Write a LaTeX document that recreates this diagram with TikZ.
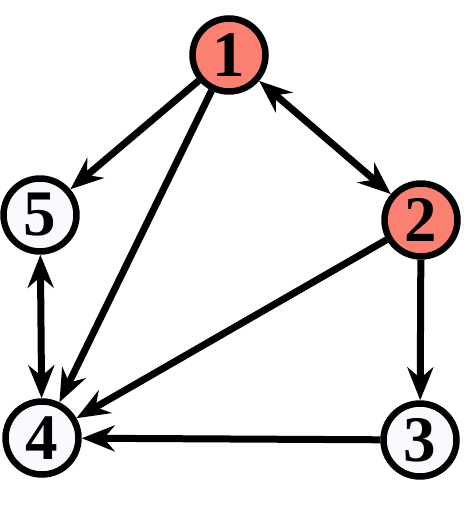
\documentclass[tikz,border=0pt]{standalone}
\usepackage{fontspec}
\setmainfont{Liberation Serif}
\usetikzlibrary{arrows.meta}
\definecolor{salmon}{RGB}{250,128,114}
\definecolor{ghost}{RGB}{250,250,254}

\begin{document}
\begin{tikzpicture}[x=0.02cm,y=-0.02cm,>={Stealth[length=0.66cm,width=0.52cm,inset=0.22cm]},
    vtx/.style={circle,draw,line width=0.13cm,fill=ghost,minimum size=1.46cm,inner sep=0pt,
      font=\fontsize{37}{37}\selectfont\bfseries},
    hot/.style={vtx,fill=salmon},
    line width=0.14cm]
  \useasboundingbox (0,0) rectangle (463,506);
  \node[hot] (n1) at (229,55) {1};
  \node[hot] (n2) at (421,220) {2};
  \node[vtx] (n5) at (40,215) {5};
  \node[vtx] (n4) at (42,438) {4};
  \node[vtx] (n3) at (420,440) {3};
  \path[->]
    (n1) edge (n5)
    (n1) edge (n4)
    (n2) edge (n4)
    (n2) edge (n3)
    (n3) edge (n4);
  \path[<->]
    (n1) edge (n2)
    (n5) edge (n4);
\end{tikzpicture}
\end{document}
